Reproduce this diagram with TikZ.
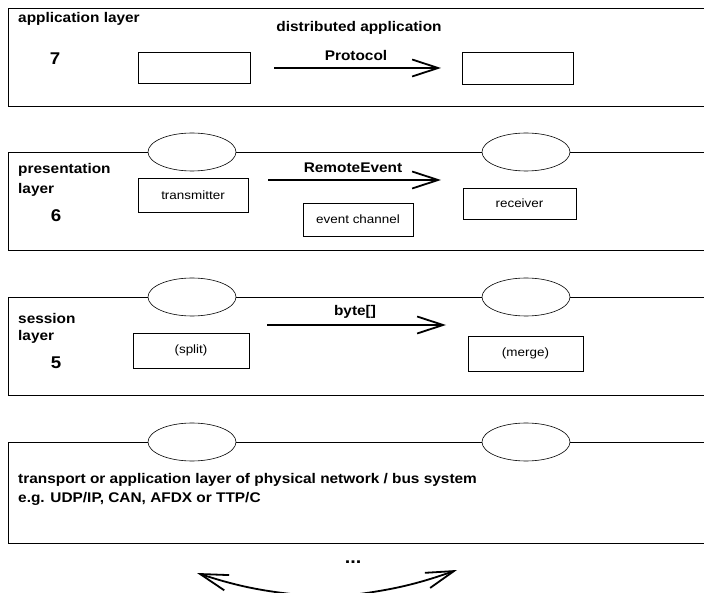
\documentclass[tikz,border=0pt]{standalone}
\usepackage{fontspec}
\setmainfont{Liberation Sans}
\newfontfamily\wideboldfont[FakeStretch=1.1]{Liberation Sans Bold}
\newfontfamily\wideregfont[FakeStretch=1.12]{Liberation Sans}
\usetikzlibrary{arrows.meta,shapes.geometric}
\begin{document}
\begin{tikzpicture}[x=1pt,y=-1pt,
  layerline/.style={line width=0.9pt},
  ebox/.style={draw,line width=0.7pt,inner sep=0pt,font=\wideregfont\fontsize{12}{13}\selectfont},
  lbl/.style={font=\wideboldfont\fontsize{14}{16}\selectfont,anchor=west,inner sep=0pt},
  num/.style={font=\wideboldfont\fontsize{17}{19}\selectfont,inner sep=0pt},
  ell/.style={draw,ellipse,fill=white,minimum width=88pt,minimum height=38pt,inner sep=0pt,line width=0.6pt},
  arr/.style={line width=1.8pt,-{Straight Barb[length=26pt,width=17pt,line width=1.8pt]}},
  barr/.style={line width=1.8pt,-{Straight Barb[length=28pt,width=16pt,line width=1.8pt]}}]
\useasboundingbox (0,0) rectangle (704,593);
\clip (0,0) rectangle (704,593);
\fill[white] (0,0) rectangle (704,593);

% layer 7
\draw[layerline] (712,8) -- (8,8) -- (8,106) -- (712,106);
\node[lbl] (l7) at (18,19) {application layer};
\node[num] (n7) at (55,59) {7};
\node[lbl,anchor=center] (da) at (359,28) {distributed application};
\node[lbl,anchor=center] (proto) at (356,55) {Protocol};
\node[ebox,minimum width=112pt,minimum height=31pt] (a1) at (194,67.5) {};
\node[ebox,minimum width=111pt,minimum height=32pt] (a2) at (517.5,68) {};
\coordinate (p1s) at (274,68);
\coordinate (p1e) at (441,68);
\draw[arr] (p1s) -- (p1e);

% layer 6
\draw[layerline] (712,152) -- (8,152) -- (8,250) -- (712,250);
\node[ell] (e61) at (192,152) {};
\node[ell] (e62) at (526,152) {};
\node[lbl] (l6a) at (18,170) {presentation};
\node[lbl] (l6b) at (18,190) {layer};
\node[num] (n6) at (56,216) {6};
\node[lbl,anchor=center] (re) at (353,168) {RemoteEvent};
\node[ebox,minimum width=110pt,minimum height=34pt] (tx) at (193,195) {transmitter};
\node[ebox,minimum width=110pt,minimum height=33pt] (ec) at (358,219.5) {event channel};
\node[ebox,minimum width=113pt,minimum height=31pt] (rx) at (519.5,203.5) {receiver};
\coordinate (p2s) at (268,180);
\coordinate (p2e) at (441,180);
\draw[arr] (p2s) -- (p2e);

% layer 5
\draw[layerline] (712,297) -- (8,297) -- (8,395) -- (712,395);
\node[ell] (e51) at (192,297) {};
\node[ell] (e52) at (526,297) {};
\node[lbl] (l5a) at (18,318) {session};
\node[lbl] (l5b) at (18,337) {layer};
\node[num] (n5) at (56,363) {5};
\node[lbl,anchor=center] (by) at (355,312) {byte[]};
\node[ebox,minimum width=116pt,minimum height=35pt] (sp) at (191,350.5) {(split)};
\node[ebox,minimum width=115pt,minimum height=35pt] (mg) at (525.5,353.5) {(merge)};
\coordinate (p3s) at (267,325);
\coordinate (p3e) at (446,325);
\draw[arr] (p3s) -- (p3e);

% layer 4
\draw[layerline] (712,442) -- (8,442) -- (8,543) -- (712,543);
\node[ell] (e41) at (192,442) {};
\node[ell] (e42) at (526,442) {};
\node[lbl] (t4a) at (18,480) {transport or application layer of physical network / bus system};
\node[lbl] (t4b) at (18,499) {e.g. UDP/IP, CAN, AFDX or TTP/C};

% bottom
\node[font=\wideboldfont\fontsize{18}{20}\selectfont,inner sep=0pt] (dots) at (353,562) {...};
\coordinate (b1s) at (300,595);
\coordinate (b1e) at (197,573);
\coordinate (b2s) at (352,595);
\coordinate (b2e) at (457,570);
\draw[barr] (b1s) to[bend left=6] (b1e);
\draw[barr] (b2s) to[bend right=6] (b2e);
\end{tikzpicture}
\end{document}
